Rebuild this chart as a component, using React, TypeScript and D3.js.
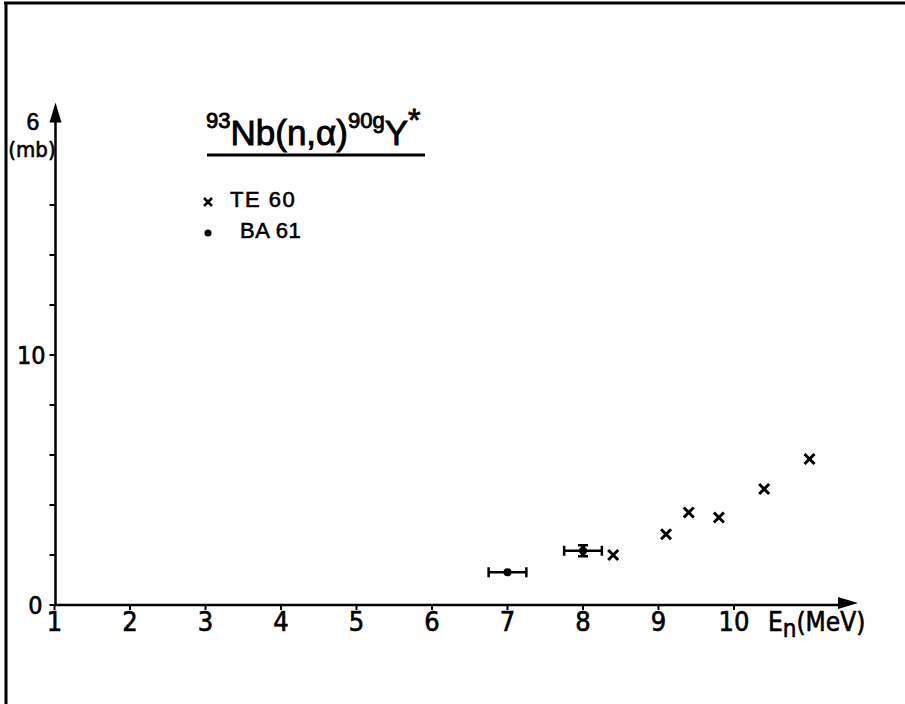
import React from "react";
import * as d3 from "d3";

const te60Energy = [8.4, 9.1, 9.4, 9.8, 10.4, 11.0];
const te60Sigma = [2.0, 2.83, 3.7, 3.5, 4.64, 5.84];
const ba61Energy = [7.0, 8.0];
const ba61Sigma = [1.31, 2.17];
const ba61EnergyErr = [0.25, 0.25];
const ba61SigmaErr = [0, 0.22];
const xTicks = [1, 2, 3, 4, 5, 6, 7, 8, 9, 10];
const yTicks = [0, 2, 4, 6, 8, 10, 12, 14, 16];
const yTickLabels = [0, 10];

const W = 905;
const H = 704;
const x = d3.scaleLinear().domain([1, 10]).range([54.5, 734]);
const y = d3.scaleLinear().domain([0, 10]).range([605, 355]);

const narrow = "'DejaVu Sans Condensed', 'Liberation Sans Narrow', 'Liberation Sans', sans-serif";
const sans = "'Liberation Sans', Arial, sans-serif";

export default function App() {
  const x0 = x(1);
  const y0 = y(0);
  const xEnd = 858;
  const yTop = y(20.1);
  const ink = { fill: "#000", stroke: "#000", strokeWidth: 0.6 };
  return (
    <svg width={W} height={H} style={{ position: "absolute", left: 0, top: 0, background: "#fff" }}>
      {/* frame */}
      <line x1={4} y1={3} x2={W} y2={3} stroke="#000" strokeWidth={3} />
      <line x1={6} y1={3} x2={6} y2={H} stroke="#000" strokeWidth={3} />

      {/* axes */}
      <line x1={x0} y1={y0} x2={xEnd - 16} y2={y0} stroke="#000" strokeWidth={2.5} />
      <path d={`M${xEnd},${y0 - 2} L${xEnd - 20},${y0 - 8} L${xEnd - 20},${y0 + 4} Z`} fill="#000" />
      <line x1={x0 + 1} y1={y0} x2={x0 + 1} y2={yTop + 18} stroke="#000" strokeWidth={2.5} />
      <path d={`M${x0 + 1},${yTop} L${x0 - 5},${yTop + 20} L${x0 + 7},${yTop + 20} Z`} fill="#000" />

      {/* x ticks */}
      {xTicks.map((t) => (
        <g key={`xt${t}`}>
          <line x1={x(t)} y1={y0} x2={x(t)} y2={y0 + 5} stroke="#000" strokeWidth={2} />
          <text x={x(t)} y={y0 + 26} textAnchor="middle" fontFamily={narrow} fontSize={27} {...ink}>
            {t}
          </text>
        </g>
      ))}
      <text x={768} y={y0 + 26} fontFamily={narrow} fontSize={26} {...ink}>
        E<tspan dy={6} fontSize={24}>n</tspan>
        <tspan dy={-6}>(MeV)</tspan>
      </text>

      {/* y ticks */}
      {yTicks.map((t) => (
        <line key={`yt${t}`} x1={x0 - 5} y1={y(t)} x2={x0} y2={y(t)} stroke="#000" strokeWidth={2} />
      ))}
      {yTickLabels.map((t) => (
        <text
          key={`yl${t}`}
          x={t === 0 ? x0 - 12 : x0 - 9}
          y={y(t) + 9}
          textAnchor="end"
          fontFamily={narrow}
          fontSize={25}
          {...ink}
        >
          {t}
        </text>
      ))}
      <text x={33} y={130} textAnchor="middle" fontFamily={sans} fontSize={23} {...ink}>6</text>
      <text x={32} y={157} textAnchor="middle" fontFamily={narrow} fontSize={22} {...ink}>(mb)</text>

      {/* title */}
      <text x={206} y={145} fontFamily={sans} fontSize={35} fill="#000" stroke="#000" strokeWidth={0.9}>
        <tspan fontSize={22} dy={-17}>93</tspan>
        <tspan dy={17}>Nb(n,α)</tspan>
        <tspan fontSize={22} dy={-17}>90g</tspan>
        <tspan dy={17}>Y</tspan>
        <tspan fontSize={32} dy={-14}>*</tspan>
      </text>
      <line x1={207} y1={155} x2={425} y2={155} stroke="#000" strokeWidth={3} />

      {/* legend */}
      <g stroke="#000" strokeWidth={2.5}>
        <line x1={204} y1={198} x2={212} y2={206} />
        <line x1={212} y1={198} x2={204} y2={206} />
      </g>
      <text x={230} y={207} fontFamily={sans} fontSize={22} letterSpacing={1.5} {...ink}>TE 60</text>
      <circle cx={208} cy={233} r={3.5} fill="#000" />
      <text x={240} y={238} fontFamily={sans} fontSize={22} letterSpacing={0.5} {...ink}>BA 61</text>

      {/* TE 60 crosses */}
      <g stroke="#000" strokeWidth={3}>
        {te60Energy.map((e, i) => {
          const cx = x(e);
          const cy = y(te60Sigma[i]);
          return (
            <g key={`te${i}`}>
              <line x1={cx - 5} y1={cy - 5} x2={cx + 5} y2={cy + 5} />
              <line x1={cx + 5} y1={cy - 5} x2={cx - 5} y2={cy + 5} />
            </g>
          );
        })}
      </g>

      {/* BA 61 points with error bars */}
      {ba61Energy.map((e, i) => {
        const cx = x(e);
        const cy = y(ba61Sigma[i]);
        const xl = x(e - ba61EnergyErr[i]);
        const xr = x(e + ba61EnergyErr[i]);
        const yt = y(ba61Sigma[i] + ba61SigmaErr[i]);
        const yb = y(ba61Sigma[i] - ba61SigmaErr[i]);
        return (
          <g key={`ba${i}`} stroke="#000" strokeWidth={2.5}>
            <line x1={xl} y1={cy} x2={xr} y2={cy} />
            <line x1={xl} y1={cy - 5} x2={xl} y2={cy + 5} />
            <line x1={xr} y1={cy - 5} x2={xr} y2={cy + 5} />
            {ba61SigmaErr[i] > 0 && (
              <g>
                <line x1={cx} y1={yt} x2={cx} y2={yb} strokeWidth={4} />
                <line x1={cx - 5} y1={yt} x2={cx + 5} y2={yt} />
                <line x1={cx - 5} y1={yb} x2={cx + 5} y2={yb} />
              </g>
            )}
            <circle cx={cx} cy={cy} r={4} fill="#000" stroke="none" />
          </g>
        );
      })}
    </svg>
  );
}
